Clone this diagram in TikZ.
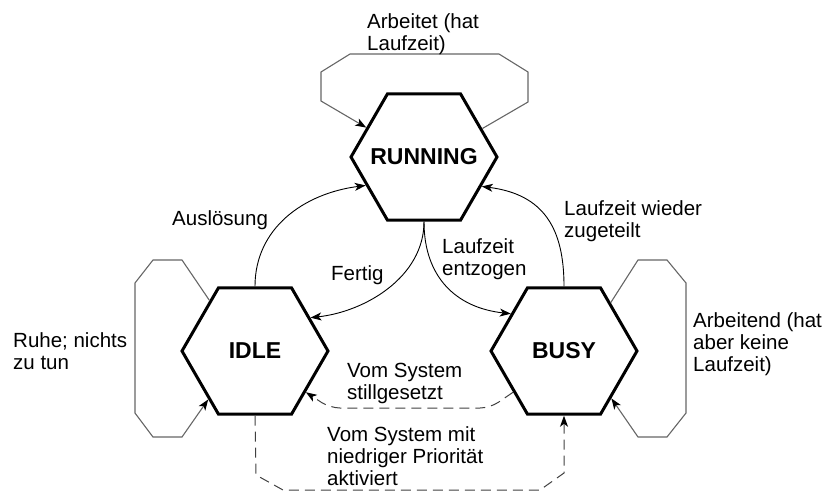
\documentclass[tikz,border=0pt]{standalone}
\usepackage{fontspec}
\setmainfont{Liberation Sans}
\usetikzlibrary{shapes.geometric,arrows.meta}
\begin{document}
\begin{tikzpicture}[x=1pt,y=-1pt,
  state/.style={regular polygon, regular polygon sides=6, minimum size=146pt,
    inner sep=0pt, line width=3pt, draw=black,
    font=\fontsize{23}{26}\selectfont\bfseries},
  lbl/.style={anchor=base west, inner sep=0pt, align=left,
    font=\fontsize{20.5}{22}\selectfont},
  flow/.style={-{Stealth[length=11pt,width=8pt,inset=3pt]}, line width=0.9pt},
  selfloop/.style={-{Stealth[length=11pt,width=8pt,inset=3pt,color=black]},
    line width=1.1pt, draw=black!60},
  sys/.style={-{Stealth[length=11pt,width=8pt,inset=3pt,color=black]},
    line width=1pt, draw=black!75, dash pattern=on 10pt off 6pt}
]
\useasboundingbox (0,0) rectangle (830,493);

% states (the text sits in a zero-width box so the hexagon keeps its size)
\node[state] (run)  at (424,157) {\makebox[0pt]{RUNNING}};
\node[state] (idle) at (255,351) {\makebox[0pt]{IDLE}};
\node[state] (busy) at (564,351) {\makebox[0pt]{BUSY}};

% self loops
\draw[selfloop] (run.26.6) -- (528,102) -- (528,72) -- (499,54) -- (350,54)
  -- (321,72) -- (321,101) -- (run.153);
\draw[selfloop] (idle.132) -- (182,260) -- (153,260) -- (135,283) -- (135,413)
  -- (153,437) -- (182,437) -- (idle.226);
\draw[selfloop] (busy.46) -- (638,260) -- (667,260) -- (686,283) -- (686,413)
  -- (667,437) -- (638,437) -- (busy.315);

% transitions between states
\draw[flow] (idle.90) .. controls +(0,-58) and +(-62,8) .. (run.206.6);
\draw[flow] (busy.90) .. controls +(0,-58) and +(62,8) .. (run.333.4);
\draw[flow] (run.270) .. controls +(0,55) and +(55,-6) .. (idle.31.5);
\draw[flow] (run.270) .. controls +(0,55) and +(-55,-6) .. (busy.145);

% system-driven transitions
\draw[sys, rounded corners=10pt] (busy.219.5) -- (490,408) -- (330,408) -- (idle.321);
\draw[sys] (idle.270) -- (256,475) -- (283,490) -- (540,490) -- (564,473) -- (busy.270);

% labels (positioned at the baseline of their last line)
\node[lbl] (t1) at (367,50)  {Arbeitet (hat\\Laufzeit)};
\node[lbl] (t2) at (172,225) {Auslösung};
\node[lbl] (t3) at (331,280) {Fertig};
\node[lbl] (t4) at (442,275) {Laufzeit\\entzogen};
\node[lbl] (t5) at (564,237) {Laufzeit wieder\\zugeteilt};
\node[lbl] (t6) at (13,369)  {Ruhe; nichts\\zu tun};
\node[lbl] (t7) at (693,371) {Arbeitend (hat\\aber keine\\Laufzeit)};
\node[lbl] (t8) at (347,399) {Vom System\\stillgesetzt};
\node[lbl] (t9) at (327,485) {Vom System mit\\niedriger Priorität\\aktiviert};
\end{tikzpicture}
\end{document}
